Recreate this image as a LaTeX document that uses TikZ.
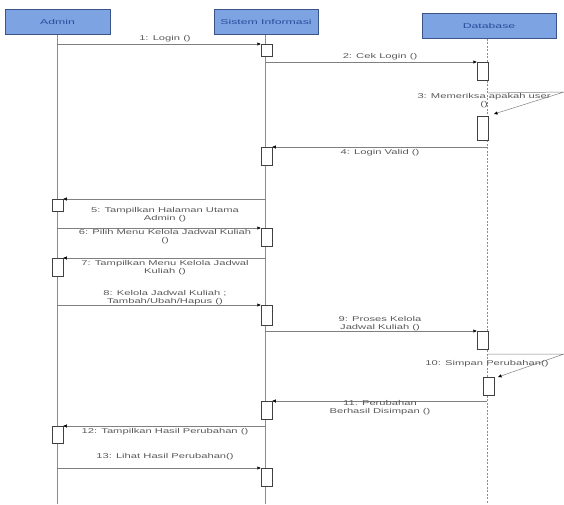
\documentclass[tikz,border=0pt]{standalone}
\usepackage{fontspec}
\setmainfont{Liberation Sans}
\newfontfamily\lblfont[FakeStretch=1.6]{Liberation Sans}
\newfontfamily\hdfont[FakeStretch=1.75]{Liberation Sans}
\usetikzlibrary{arrows.meta}
\definecolor{hdfill}{HTML}{7EA3E2}
\definecolor{hdborder}{HTML}{3B5488}
\definecolor{hdtext}{HTML}{2A4C9A}
\begin{document}
\begin{tikzpicture}[x=1pt,y=-1pt,
  head/.style={draw=hdborder, fill=hdfill, line width=0.9pt, text=hdtext,
    font=\hdfont\fontsize{7}{8}\selectfont, minimum height=25pt, inner sep=0pt},
  act/.style={draw=black!75, fill=white, line width=0.5pt, minimum width=11pt,
    inner sep=0pt, anchor=north},
  msg/.style={draw=black!50, line width=0.5pt,
    -{Triangle[length=3.5pt,width=3pt,color=black]}},
  lbl/.style={font=\lblfont\fontsize{7}{8}\selectfont, text=black!65, align=center, inner sep=0pt},
  life/.style={draw=black!45, line width=0.5pt},
  dlife/.style={draw=black!45, line width=0.5pt, dash pattern=on 2pt off 1.5pt}]
\useasboundingbox (0,0) rectangle (564,504);
% headers
\node[head, minimum width=105pt] (admin) at (57.5,22) {Admin};
\node[head, minimum width=104pt] (si) at (266,22) {Sistem Informasi};
\node[head, minimum width=134pt] (db) at (489,26) {Database};
% lifeline ends
\coordinate (adminEnd) at (57,504);
\coordinate (siEnd) at (265,504);
\coordinate (dbEnd) at (487,504);
\draw[life] (admin.south -| adminEnd) -- (adminEnd);
\draw[life] (si.south -| siEnd) -- (siEnd);
\draw[dlife] (db.south -| dbEnd) -- (dbEnd);
% activations
\node[act, minimum height=12pt] (a1) at (266.5,44) {};
\node[act, minimum height=18pt] (a2) at (482.5,62) {};
\node[act, minimum height=24pt] (a3) at (482.5,116) {};
\node[act, minimum height=18pt] (a4) at (266.5,147) {};
\node[act, minimum height=12pt] (a5) at (57.5,199) {};
\node[act, minimum height=18pt] (a6) at (266.5,228) {};
\node[act, minimum height=18pt] (a7) at (57.5,258) {};
\node[act, minimum height=20pt] (a8) at (266.5,305) {};
\node[act, minimum height=18pt] (a9) at (482.5,331) {};
\node[act, minimum height=18pt] (a10) at (488.5,377) {};
\node[act, minimum height=18pt] (a11) at (266.5,401) {};
\node[act, minimum height=17pt] (a12) at (57.5,426) {};
\node[act, minimum height=18pt] (a13) at (266.5,468) {};
% message start points
\coordinate (m1) at (57,44);
\coordinate (m2) at (265,62);
\coordinate (m3a) at (488,93);
\coordinate (m3b) at (564,92);
\coordinate (m3c) at (494,114);
\coordinate (m4) at (487,147);
\coordinate (m5) at (265,199);
\coordinate (m6) at (57,228);
\coordinate (m7) at (265,258);
\coordinate (m8) at (57,305);
\coordinate (m9) at (265,331);
\coordinate (m10a) at (488,354);
\coordinate (m10b) at (564,354);
\coordinate (m10c) at (498,377);
\coordinate (m11) at (487,401);
\coordinate (m12) at (265,426);
\coordinate (m13) at (57,468);
% messages
\draw[msg] (m1) -- (a1.north west);
\draw[msg] (m2) -- (a2.north west);
\draw[msg] (m3a) -- (m3b) -- (m3c);
\draw[msg] (m4) -- (a4.north east);
\draw[msg] (m5) -- (a5.north east);
\draw[msg] (m6) -- (a6.north west);
\draw[msg] (m7) -- (a7.north east);
\draw[msg] (m8) -- (a8.north west);
\draw[msg] (m9) -- (a9.north west);
\draw[msg] (m10a) -- (m10b) -- (m10c);
\draw[msg] (m11) -- (a11.north east);
\draw[msg] (m12) -- (a12.north east);
\draw[msg] (m13) -- (a13.north west);
% labels
\node[lbl] (l1) at (165,39) {1: Login ()};
\node[lbl] (l2) at (380,57) {2: Cek Login ()};
\node[lbl] (l3) at (484,101) {3: Memeriksa apakah user\\()};
\node[lbl] (l4) at (380,153) {4: Login Valid ()};
\node[lbl] (l5) at (165,215) {5: Tampilkan Halaman Utama\\Admin ()};
\node[lbl] (l6) at (165,237) {6: Pilih Menu Kelola Jadwal Kuliah\\()};
\node[lbl] (l7) at (165,268) {7: Tampilkan Menu Kelola Jadwal\\Kuliah ()};
\node[lbl] (l8) at (165,298) {8: Kelola Jadwal Kuliah ;\\Tambah/Ubah/Hapus ()};
\node[lbl] (l9) at (380,324) {9: Proses Kelola\\Jadwal Kuliah ()};
\node[lbl] (l10) at (487,364) {10: Simpan Perubahan()};
\node[lbl] (l11) at (380,408) {11: Perubahan\\Berhasil Disimpan ()};
\node[lbl] (l12) at (165,432) {12: Tampilkan Hasil Perubahan ()};
\node[lbl] (l13) at (165,457) {13: Lihat Hasil Perubahan()};
\end{tikzpicture}
\end{document}
